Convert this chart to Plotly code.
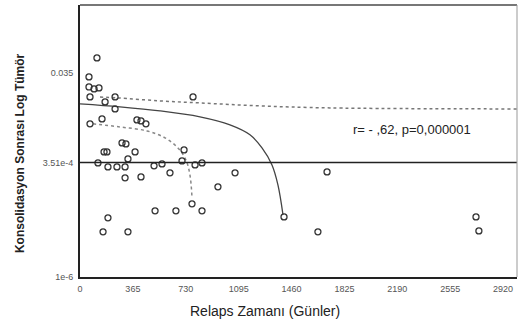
import plotly.graph_objects as go

# Data points (days, tumor level)
days = [117, 62, 62, 97, 131, 69, 173, 242, 242, 780, 152, 69, 393, 421, 455, 290, 317,
        166, 186, 380, 718, 331, 124, 193, 255, 311, 311, 421, 511, 566, 621, 704, 794,
        842, 1070, 952, 773, 842, 518, 662, 193, 159, 331, 1705, 1408, 1642, 2733, 2753]
tumor = [0.0743, 0.0281, 0.0168, 0.0152, 0.0160, 0.0101, 0.00782, 0.0101, 0.00546, 0.0101,
         0.00327, 0.00254, 0.00311, 0.00296, 0.00254, 9.6e-4, 9.1e-4,
         6.05e-4, 6.05e-4, 6.05e-4, 6.7e-4, 4.23e-4, 3.44e-4, 2.8e-4, 2.8e-4, 2.8e-4,
         1.6e-4, 1.68e-4, 2.96e-4, 3.27e-4, 2.07e-4, 3.82e-4, 3.11e-4,
         3.44e-4, 2.07e-4, 1.01e-4, 4.23e-5, 2.96e-5, 2.96e-5, 2.96e-5, 2.07e-5, 1.01e-5, 1.01e-5,
         2.17e-4, 2.17e-5, 1.01e-5, 2.17e-5, 1.06e-5]

# Fit line
fit_x = [0, 276, 552, 828, 1035, 1173, 1256, 1325, 1366, 1401]
fit_y = [0.00705, 0.00605, 0.00493, 0.00363, 0.00241, 0.00145, 7.4e-4, 3.1e-4, 1.12e-4, 2.4e-5]

# Upper confidence band
up_x = [138, 262, 552, 828, 1242, 1725, 3016]
up_y = [0.0100, 0.0096, 0.00822, 0.00743, 0.00637, 0.00575, 0.00546]

# Lower confidence band
lo_x = [90, 276, 462, 587, 676, 731, 759, 773]
lo_y = [0.00254, 0.00217, 0.00177, 0.00124, 7.4e-4, 4.0e-4, 1.85e-4, 5.7e-5]

ref_level = 3.51e-4

x_ticks = [0, 365, 730, 1095, 1460, 1825, 2190, 2555, 2920]
y_ticks = [1e-6, 3.51e-4, 0.035]
y_tick_text = ["1e-6", "3.51e-4", "0.035"]

FONT = "Arial, Liberation Sans, sans-serif"

fig = go.Figure()

fig.add_trace(go.Scatter(x=up_x, y=up_y, mode="lines",
                         line=dict(color="#777", width=1.5, dash="dot", shape="spline"),
                         showlegend=False, hoverinfo="skip"))
fig.add_trace(go.Scatter(x=lo_x, y=lo_y, mode="lines",
                         line=dict(color="#888", width=1.5, dash="dot", shape="spline"),
                         showlegend=False, hoverinfo="skip"))
fig.add_trace(go.Scatter(x=fit_x, y=fit_y, mode="lines",
                         line=dict(color="#444", width=1.3, shape="spline"),
                         showlegend=False, hoverinfo="skip"))
fig.add_trace(go.Scatter(x=days, y=tumor, mode="markers",
                         marker=dict(symbol="circle-open", size=6, color="#333",
                                     line=dict(width=1.3, color="#333")),
                         showlegend=False))

fig.add_shape(type="line", xref="paper", x0=0, x1=1, yref="y", y0=ref_level, y1=ref_level,
              line=dict(color="#222", width=1.5))

fig.add_annotation(text="r= - ,62, p=0,000001", xref="x", x=2291, yref="y", y=-2.72,
                   showarrow=False, font=dict(family=FONT, size=13, color="#222"))
fig.add_annotation(text="<b>Konsolidasyon Sonrası Log Tümör</b>", xref="paper", x=-0.137,
                   yref="paper", y=0.456, textangle=-90, showarrow=False,
                   xanchor="center", yanchor="middle",
                   font=dict(family=FONT, size=12, color="#222"))
fig.add_annotation(text="Relaps Zamanı (Günler)", xref="paper", x=0.423, yref="paper", y=-0.125,
                   showarrow=False, xanchor="center", yanchor="middle",
                   font=dict(family=FONT, size=14, color="#222"))

fig.update_xaxes(range=[0, 3016], tickvals=x_ticks, ticktext=[str(v) for v in x_ticks],
                 showgrid=False, zeroline=False, showline=True, linecolor="#222", linewidth=2,
                 mirror=False, ticks="outside", ticklen=2, tickcolor="white",
                 tickfont=dict(family=FONT, size=9, color="#555"))
fig.update_yaxes(type="log", range=[-6, 0.048], tickvals=y_ticks, ticktext=y_tick_text,
                 showgrid=False, zeroline=False, showline=True, linecolor="#222", linewidth=2,
                 mirror=False, ticks="outside", ticklen=3, tickcolor="white",
                 tickfont=dict(family=FONT, size=9, color="#555"))

# top and right frame
fig.add_shape(type="line", xref="paper", yref="paper", x0=0, x1=1, y0=1, y1=1,
              line=dict(color="#777", width=2))
fig.add_shape(type="line", xref="paper", yref="paper", x0=1, x1=1, y0=0, y1=1,
              line=dict(color="#999", width=1))

fig.update_layout(width=519, height=320, margin=dict(l=80, r=2, t=5, b=43),
                  plot_bgcolor="white", paper_bgcolor="white")

fig.write_html("out.html")
